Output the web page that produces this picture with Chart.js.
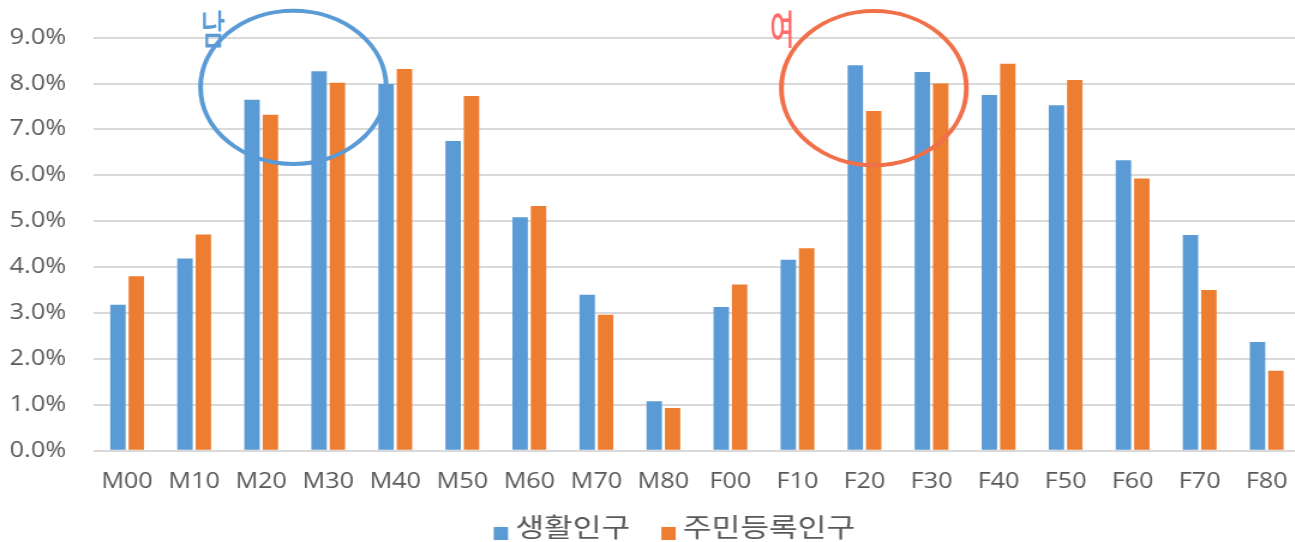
<!DOCTYPE html>
<html lang="ko">
<head>
<meta charset="utf-8">
<title>생활인구 · 주민등록인구 연령대별 비율</title>
<script src="https://cdn.jsdelivr.net/npm/chart.js@4.4.1/dist/chart.umd.min.js"></script>
<style>
  html, body { margin: 0; padding: 0; background: #ffffff; overflow: hidden; }
  /* the chart is laid out narrow and widened horizontally */
  #wrap { width: 1092px; height: 542px; transform: scaleX(1.2); transform-origin: 0 0; }
  canvas { display: block; }
</style>
</head>
<body>
<div id="wrap"><canvas id="chart" width="1092" height="542"></canvas></div>
<script>
// age groups: M = 남, F = 여
const categories = ['M00', 'M10', 'M20', 'M30', 'M40', 'M50', 'M60', 'M70', 'M80',
                    'F00', 'F10', 'F20', 'F30', 'F40', 'F50', 'F60', 'F70', 'F80'];

// share of each group, in percent
const livingPop     = [3.18, 4.19, 7.65, 8.27, 7.99, 6.75, 5.09, 3.40, 1.08,
                       3.13, 4.16, 8.40, 8.25, 7.75, 7.53, 6.33, 4.70, 2.37];
const registeredPop = [3.80, 4.71, 7.32, 8.02, 8.32, 7.73, 5.33, 2.96, 0.93,
                       3.62, 4.41, 7.40, 8.00, 8.43, 8.08, 5.93, 3.50, 1.74];

const seriesNames = ['생활인구', '주민등록인구'];
const yTicks = [0, 1, 2, 3, 4, 5, 6, 7, 8, 9];

// highlighted groups: centre as category index / percent value
const highlights = [
  { label: '남', x: 2.48, y: 7.92, rx: 1.385, ry: 1.67, labelX: 1.28, labelY: 9.2,
    stroke: '#5B9BD5', text: '#5B9BD5' },
  { label: '여', x: 11.14, y: 7.90, rx: 1.38, ry: 1.68, labelX: 9.77, labelY: 9.2,
    stroke: '#F0704A', text: '#FF6A6A' }
];

const FONT = "'Open Sans', 'Noto Sans CJK KR', sans-serif";
const KFONT = "'Noto Sans CJK KR', 'Noto Sans', sans-serif";
const TEXT_COLOR = '#595959';

const highlightPlugin = {
  id: 'highlights',
  afterDatasetsDraw(chart) {
    const { ctx, scales: { x, y } } = chart;
    const catW = x.getPixelForValue(1) - x.getPixelForValue(0);
    const unitY = y.getPixelForValue(0) - y.getPixelForValue(1);
    highlights.forEach(h => {
      ctx.save();
      ctx.beginPath();
      ctx.ellipse(x.getPixelForValue(h.x), y.getPixelForValue(h.y),
                  h.rx * catW, h.ry * unitY, 0, 0, Math.PI * 2);
      ctx.lineWidth = 4;
      ctx.strokeStyle = h.stroke;
      ctx.stroke();
      ctx.translate(x.getPixelForValue(h.labelX), y.getPixelForValue(h.labelY));
      ctx.scale(0.56, 1);
      ctx.font = '500 40px ' + KFONT;
      ctx.fillStyle = h.text;
      ctx.textAlign = 'center';
      ctx.textBaseline = 'middle';
      ctx.fillText(h.label, 0, 0);
      ctx.restore();
    });
  }
};

const legendCenterX = 562;
const legendTextY = 527;
const legendBoxTop = 527;
const legendPlugin = {
  id: 'bottomLegend',
  afterDraw(chart) {
    const ctx = chart.ctx;
    ctx.save();
    ctx.font = '26px ' + KFONT;
    const box = 12, gap = 6, spacing = 26;
    const items = chart.data.datasets.map(ds => ({
      text: ds.label, color: ds.backgroundColor,
      w: box + gap + ctx.measureText(ds.label).width
    }));
    const total = items.reduce((s, it) => s + it.w, 0) + spacing * (items.length - 1);
    let cx = legendCenterX - total / 2;
    items.forEach(it => {
      ctx.fillStyle = it.color;
      ctx.fillRect(cx, legendBoxTop, box, 13);
      ctx.fillStyle = TEXT_COLOR;
      ctx.textBaseline = 'middle';
      ctx.textAlign = 'left';
      ctx.fillText(it.text, cx + box + gap, legendTextY);
      cx += it.w + spacing;
    });
    ctx.restore();
  }
};

new Chart(document.getElementById('chart'), {
  type: 'bar',
  data: {
    labels: categories,
    datasets: [
      { label: seriesNames[0], data: livingPop, backgroundColor: '#5B9BD5',
        categoryPercentage: 0.548, barPercentage: 0.84 },
      { label: seriesNames[1], data: registeredPop, backgroundColor: '#ED7D31',
        categoryPercentage: 0.548, barPercentage: 0.84 }
    ]
  },
  options: {
    responsive: false,
    animation: false,
    devicePixelRatio: 1,
    layout: { padding: { top: 37.7, right: 0, bottom: 0, left: 0 } },
    plugins: {
      legend: { display: false },
      tooltip: { enabled: false }
    },
    scales: {
      x: {
        grid: { display: false, drawTicks: false },
        border: { display: false },
        ticks: { color: TEXT_COLOR, font: { family: FONT, size: 21 }, padding: 19,
                 maxRotation: 0, autoSkip: false },
        afterFit(scale) { scale.height = 91.3; }
      },
      y: {
        min: 0, max: 9,
        afterBuildTicks(scale) { scale.ticks = yTicks.map(v => ({ value: v })); },
        grid: { color: '#D9D9D9', lineWidth: 2, drawTicks: false },
        border: { display: false },
        ticks: { color: TEXT_COLOR, font: { family: FONT, size: 21 }, padding: 23,
                 callback: v => Number(v).toFixed(1) + '%' },
        afterFit(scale) { scale.width = 78; }
      }
    }
  },
  plugins: [highlightPlugin, legendPlugin]
});
</script>
</body>
</html>
